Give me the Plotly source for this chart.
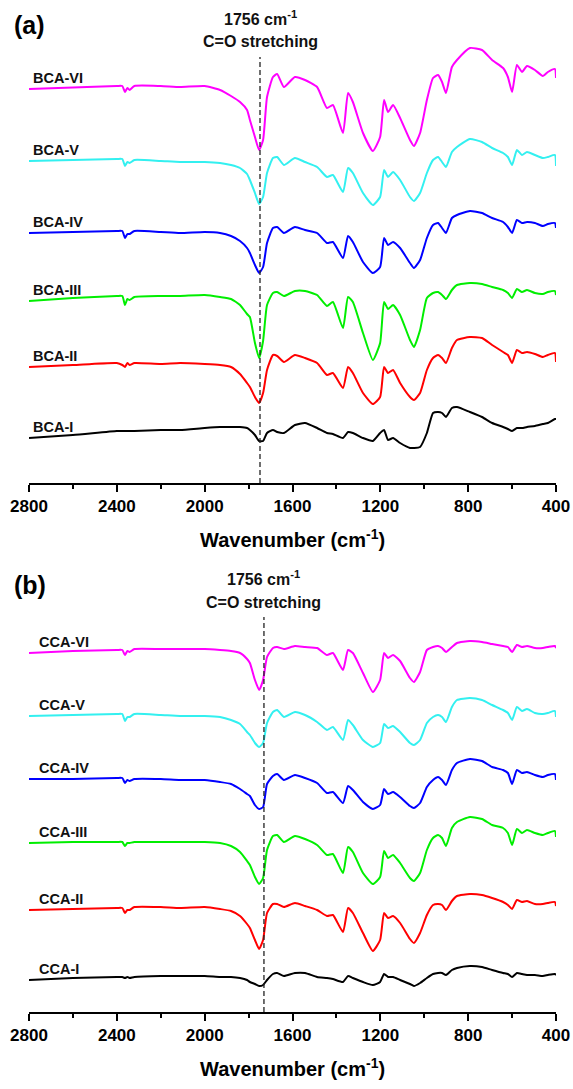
import plotly.graph_objects as go

# Wavenumber grid (cm-1) at which the spectra were read
wavenumber = [2800, 2600, 2400, 2375, 2363, 2352, 2342, 2320, 2200, 2112, 2000, 1930, 1880, 1839,
              1807, 1794, 1771, 1752, 1734, 1716, 1689, 1670, 1639, 1589, 1543, 1488, 1443, 1416,
              1370, 1347, 1325, 1279, 1234, 1201, 1183, 1165, 1142, 1110, 1065, 1047, 1019, 988,
              960, 937, 919, 901, 874, 851, 792, 737, 691, 641, 619, 600, 578, 555, 532, 496,
              460, 437, 405, 400]

# Panel (a): BCA series (stacked transmittance, a.u.)
bca_names = ["BCA-I", "BCA-II", "BCA-III", "BCA-IV", "BCA-V", "BCA-VI"]
bca_i = [45, 48, 52, 52, 52, 52, 52, 52, 53, 53, 55, 56, 56, 56, 55, 53, 48, 42, 42, 50, 53, 51, 50, 58,
         60, 55, 50, 49, 45, 51, 50, 45, 42, 50, 53, 43, 45, 40, 35, 35, 36, 50, 70, 71, 70, 66,
         75, 76, 71, 66, 60, 56, 54, 52, 55, 55, 56, 57, 59, 60, 64, 64]
bca_ii = [116, 118, 120, 118, 116, 120, 118, 120, 119, 120, 119, 118, 116, 109, 100, 96, 86, 80, 90,
          113, 128, 127, 121, 128, 125, 120, 108, 110, 95, 116, 110, 90, 79, 86, 116, 110, 113, 100,
          86, 83, 90, 113, 125, 128, 125, 120, 135, 143, 146, 145, 138, 131, 128, 120, 133, 130,
          131, 129, 126, 128, 130, 121]
bca_iii = [182, 185, 187, 187, 178, 184, 183, 186, 187, 187, 188, 186, 184, 178, 169, 166, 140, 125,
           142, 178, 190, 191, 187, 192, 192, 188, 177, 181, 155, 186, 181, 150, 123, 140, 181, 174,
           178, 168, 143, 136, 153, 185, 190, 191, 188, 184, 193, 198, 200, 199, 196, 193, 190, 185,
           194, 191, 193, 190, 189, 191, 192, 188]
bca_iv = [250, 251, 252, 252, 245, 249, 249, 252, 251, 250, 251, 250, 247, 242, 235, 230, 218, 210,
          216, 240, 255, 256, 250, 256, 253, 250, 240, 241, 225, 247, 241, 221, 210, 216, 245, 238,
          241, 235, 220, 215, 223, 245, 258, 260, 255, 250, 265, 268, 272, 270, 265, 261, 256, 250,
          263, 260, 261, 260, 257, 259, 260, 255]
bca_v = [322, 323, 324, 324, 317, 321, 320, 323, 322, 321, 321, 320, 318, 315, 309, 303, 290, 279,
         286, 310, 325, 326, 318, 325, 321, 316, 306, 308, 291, 315, 310, 290, 278, 286, 313, 306,
         311, 303, 286, 282, 290, 310, 323, 326, 321, 316, 331, 336, 344, 341, 335, 330, 326, 318,
         333, 328, 331, 328, 325, 326, 328, 317]
bca_vi = [394, 395.5, 397, 397, 391, 395, 393, 397, 397, 396, 397, 393, 387, 381, 373, 363, 346, 333,
          343, 386, 406, 409, 396, 406, 403, 396, 375, 378, 350, 390, 381, 350, 332, 346, 383, 371,
          378, 365, 343, 337, 350, 383, 405, 408, 401, 390, 416, 423, 435, 433, 423, 415, 406, 391,
          418, 411, 417, 413, 407, 411, 414, 405]

# Panel (b): CCA series
cca_names = ["CCA-I", "CCA-II", "CCA-III", "CCA-IV", "CCA-V", "CCA-VI"]
cca_i = [32, 34, 35, 35, 34, 35, 34, 35, 36, 36, 36, 35, 35, 34, 32, 30, 28, 26, 27, 32, 38, 39, 36,
         39, 39, 35, 34, 33, 30, 36, 34, 30, 27, 30, 38, 35, 35, 32, 28, 26, 29, 34, 38, 39, 39, 37,
         42, 44, 46, 45, 42, 39, 38, 35, 39, 38, 37, 37, 36, 37, 38, 37]
cca_ii = [102, 103, 104, 104, 99, 102, 102, 105, 105, 104, 105, 103, 101, 96, 88, 84, 72, 63, 72, 99,
          108, 108, 105, 109, 106, 102, 96, 97, 80, 104, 99, 79, 61, 72, 99, 94, 96, 89, 73, 69, 79,
          97, 107, 108, 107, 102, 111, 116, 118, 117, 114, 110, 107, 103, 112, 110, 111, 108, 108,
          109, 110, 106]
cca_iii = [169, 170, 170, 170, 166, 169, 169, 170, 170, 170, 170, 169, 166, 160, 151, 147, 135, 128,
           134, 162, 176, 177, 170, 176, 173, 167, 157, 158, 139, 165, 160, 139, 128, 135, 161, 154,
           157, 149, 134, 131, 139, 162, 174, 177, 174, 166, 184, 190, 195, 193, 187, 184, 179, 167,
           183, 179, 182, 179, 177, 179, 181, 175]
cca_iv = [233, 233, 234, 234, 229, 232, 231, 233, 233, 232, 232, 230, 228, 223, 218, 216, 207, 203,
          205, 228, 236, 238, 232, 237, 234, 229, 219, 220, 209, 226, 222, 210, 203, 207, 223, 218,
          220, 215, 206, 204, 209, 225, 232, 235, 232, 227, 242, 249, 253, 251, 245, 242, 239, 228,
          242, 239, 240, 237, 235, 237, 238, 232]
cca_v = [296, 297, 298, 298, 291, 295, 295, 298, 297, 296, 296, 295, 292, 288, 280, 277, 269, 265,
         269, 289, 300, 302, 295, 300, 297, 290, 282, 285, 272, 292, 287, 272, 265, 269, 288, 284,
         286, 280, 269, 267, 272, 289, 295, 297, 295, 290, 305, 312, 314, 312, 307, 302, 299, 292,
         305, 301, 303, 299, 298, 299, 301, 295]
cca_vi = [359, 361, 362, 362, 357, 361, 360, 363, 363, 363, 363, 362, 361, 359, 353, 349, 332, 322,
          332, 355, 364, 365, 363, 366, 365, 364, 357, 359, 342, 362, 359, 339, 320, 332, 359, 354,
          357, 351, 334, 330, 340, 362, 365, 366, 364, 360, 365, 369, 371, 370, 368, 366, 365, 360,
          367, 365, 366, 364, 364, 365, 366, 364]

colors = ["#000000", "#FF0000", "#00EE00", "#0000FF", "#33F0F0", "#FF00FF"]
x_ticks = [2800, 2400, 2000, 1600, 1200, 800, 400]
co_band_a = 1748
co_band_b = 1730

# ---------------- layout constants (pixels) ----------------
W, H = 573, 1089
x_left, x_right = 29, 556
a_axis, a_top = 483, 45
b_axis, b_top = 1012, 600
FONT = "Liberation Sans, Arial, sans-serif"


def py(p):
    return 1 - p / H


fig = go.Figure()

for names, series, xa, ya in [
    (bca_names, [bca_i, bca_ii, bca_iii, bca_iv, bca_v, bca_vi], "x", "y"),
    (cca_names, [cca_i, cca_ii, cca_iii, cca_iv, cca_v, cca_vi], "x2", "y2"),
]:
    for name, vals, col in zip(names, series, colors):
        fig.add_trace(go.Scatter(x=wavenumber, y=vals, mode="lines", name=name,
                                 line=dict(color=col, width=2, shape="spline", smoothing=0.5),
                                 xaxis=xa, yaxis=ya, showlegend=False, hoverinfo="skip"))
        fig.add_annotation(x=2792 if xa == "x" else 2765, y=vals[0] + 11, xref=xa, yref=ya,
                           text="<b>%s</b>" % name, showarrow=False, xanchor="left",
                           yanchor="middle", font=dict(family=FONT, size=14.5, color="#111"))

axis_common = dict(range=[2800, 400], tickvals=x_ticks, ticks="outside", ticklen=7, tickwidth=2,
                   tickcolor="black", showline=True, linewidth=2, linecolor="black",
                   showgrid=False, zeroline=False, automargin=False,
                   tickfont=dict(family=FONT, size=17, color="black", weight="bold"),
                   minor=dict(dtick=200, ticks="outside", ticklen=4, tickwidth=2,
                              tickcolor="black", showgrid=False),
                   domain=[x_left / W, x_right / W])

yaxis_common = dict(visible=False, showgrid=False, zeroline=False, automargin=False)

fig.update_layout(
    template="none",
    width=W, height=H, margin=dict(l=0, r=0, t=0, b=0, pad=0, autoexpand=False),
    paper_bgcolor="white", plot_bgcolor="white", showlegend=False,
    xaxis=dict(axis_common, anchor="y"),
    xaxis2=dict(axis_common, anchor="y2"),
    yaxis=dict(yaxis_common, range=[0, a_axis - a_top], domain=[py(a_axis), py(a_top)]),
    yaxis2=dict(yaxis_common, range=[0, b_axis - b_top], domain=[py(b_axis), py(b_top)]),
)

# dashed C=O reference lines
fig.add_shape(type="line", xref="x", yref="y", x0=co_band_a, x1=co_band_a, y0=0, y1=a_axis - 57,
              line=dict(color="#222", width=1.3, dash="5px,3px"))
fig.add_shape(type="line", xref="x2", yref="y2", x0=co_band_b, x1=co_band_b, y0=0, y1=b_axis - 617,
              line=dict(color="#222", width=1.3, dash="5px,3px"))

for xa, band, y1, y2 in [("x", co_band_a, 18, 42), ("x2", co_band_b, 578, 602)]:
    fig.add_annotation(x=band, y=py(y1), xref=xa, yref="paper", text="<b>1756 cm<sup>-1</sup></b>",
                       showarrow=False, xanchor="center", yanchor="middle",
                       font=dict(family=FONT, size=16, color="#111"))
    fig.add_annotation(x=band, y=py(y2), xref=xa, yref="paper", text="<b>C=O stretching</b>",
                       showarrow=False, xanchor="center", yanchor="middle",
                       font=dict(family=FONT, size=16, color="#111"))

for lab, yy in [("(a)", 25), ("(b)", 585)]:
    fig.add_annotation(x=12 / W, y=py(yy), xref="paper", yref="paper", text="<b>%s</b>" % lab,
                       showarrow=False, xanchor="left", yanchor="middle",
                       font=dict(family=FONT, size=25, color="black"))

for yy in [538, 1067]:
    fig.add_annotation(x=(x_left + x_right) / 2 / W, y=py(yy), xref="paper", yref="paper",
                       text="<b>Wavenumber (cm<sup>-1</sup>)</b>", showarrow=False,
                       xanchor="center", yanchor="middle",
                       font=dict(family=FONT, size=20, color="black"))

fig.write_html("out.html", config={"responsive": False, "displayModeBar": False},
               post_script="document.body.style.margin='0';document.body.style.padding='0';")
